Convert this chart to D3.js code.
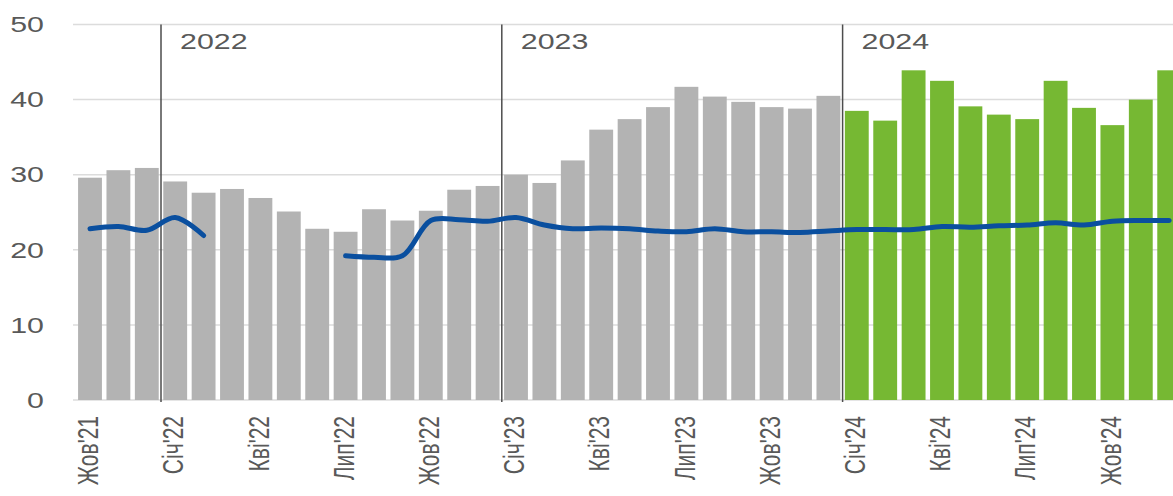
<!DOCTYPE html>
<html><head><meta charset="utf-8">
<script src="https://cdn.jsdelivr.net/npm/d3@7"></script>
<style>html,body{margin:0;padding:0;background:#fff;overflow:hidden}</style>
</head><body>
<svg id="c" width="1173" height="496"></svg>
<script>
// ---- data ----
const months = ["Жов'21","Лис'21","Гру'21",
 "Січ'22","Лют'22","Бер'22","Кві'22","Тра'22","Чер'22","Лип'22","Сер'22","Вер'22","Жов'22","Лис'22","Гру'22",
 "Січ'23","Лют'23","Бер'23","Кві'23","Тра'23","Чер'23","Лип'23","Сер'23","Вер'23","Жов'23","Лис'23","Гру'23",
 "Січ'24","Лют'24","Бер'24","Кві'24","Тра'24","Чер'24","Лип'24","Сер'24","Вер'24","Жов'24","Лис'24","Гру'24"];
const barValues = [29.6,30.6,30.9,
 29.1,27.6,28.1,26.9,25.1,22.8,22.4,25.4,23.9,25.2,28.0,28.5,
 30.0,28.9,31.9,36.0,37.4,39.0,41.7,40.4,39.7,39.0,38.8,40.5,
 38.5,37.2,43.9,42.5,39.1,38.0,37.4,42.5,38.9,36.6,40.0,43.9];
const lineValues = [22.8,23.1,22.6,
 24.3,21.9,null,null,null,null,19.2,19.0,19.2,23.9,24.0,23.8,
 24.3,23.3,22.8,22.9,22.8,22.5,22.4,22.8,22.4,22.4,22.3,22.5,
 22.7,22.7,22.7,23.1,23.0,23.2,23.3,23.6,23.3,23.8,23.9,23.9];
const highlightFrom = "Січ'24";
const tickLabels = ["Жов'21","Січ'22","Кві'22","Лип'22","Жов'22","Січ'23","Кві'23","Лип'23","Жов'23","Січ'24","Кві'24","Лип'24","Жов'24"];
const yTicks = [0,10,20,30,40,50];
const yearStarts = ["Січ'22","Січ'23","Січ'24"];
const yearLabels = ["2022","2023","2024"];

// ---- chart ----
const svg = d3.select("#c");
const FONT = "'Liberation Sans', Arial, sans-serif";
const TXT = "#595959";
const SX = 1.38;
const x = d3.scaleBand().domain(months).range([75.8, 1183.4]).paddingInner(0.16).paddingOuter(0.08);
const y = d3.scaleLinear().domain([0,50]).range([400,24.5]);
const step = x.step();

// gridlines
svg.append("g").selectAll("line").data(yTicks).join("line")
  .attr("x1",73).attr("x2",1173).attr("y1",d=>y(d)).attr("y2",d=>y(d))
  .attr("stroke","#dcdcdc").attr("stroke-width",1.5);

// y labels
svg.append("g").selectAll("text").data(yTicks).join("text")
  .attr("transform",d=>`translate(44,${y(d)}) scale(${SX},1)`)
  .attr("text-anchor","end").attr("dy","0.35em")
  .attr("font-family",FONT).attr("font-size",22).attr("fill",TXT)
  .text(d=>d);

// bars
const hiIdx = months.indexOf(highlightFrom);
svg.append("g").selectAll("rect").data(months).join("rect")
  .attr("x",d=>x(d)).attr("width",x.bandwidth())
  .attr("y",(d,i)=>y(barValues[i])).attr("height",(d,i)=>y(0)-y(barValues[i]))
  .attr("fill",(d,i)=> i>=hiIdx ? "#76b833" : "#b3b3b3");

// year separators
svg.append("g").selectAll("line").data(yearStarts).join("line")
  .attr("x1",d=>x(d)-step*0.08).attr("x2",d=>x(d)-step*0.08)
  .attr("y1",y(50)).attr("y2",402)
  .attr("stroke","#4d4d4d").attr("stroke-width",1.5);
svg.append("g").selectAll("text").data(yearStarts).join("text")
  .attr("transform",d=>`translate(${x(d)-step*0.08+19},49) scale(${SX},1)`)
  .attr("font-family",FONT).attr("font-size",22).attr("fill",TXT)
  .text((d,i)=>yearLabels[i]);

// line
const line = d3.line()
  .defined(d=>d.v!=null)
  .x(d=>x(d.m)+x.bandwidth()/2).y(d=>y(d.v))
  .curve(d3.curveCatmullRom.alpha(0.5));
svg.append("path")
  .datum(months.map((m,i)=>({m,v:lineValues[i]})))
  .attr("d",line).attr("fill","none")
  .attr("stroke","#0a4f9f").attr("stroke-width",5)
  .attr("stroke-linecap","round").attr("stroke-linejoin","round");

// x tick labels
svg.append("g").selectAll("text").data(tickLabels).join("text")
  .attr("transform",d=>`translate(${x(d)+x.bandwidth()/2-2},416) scale(${SX},1) rotate(-90)`)
  .attr("text-anchor","end").attr("dy","0.35em")
  .attr("font-family",FONT).attr("font-size",21).attr("fill",TXT)
  .text(d=>d);
</script>
</body></html>
